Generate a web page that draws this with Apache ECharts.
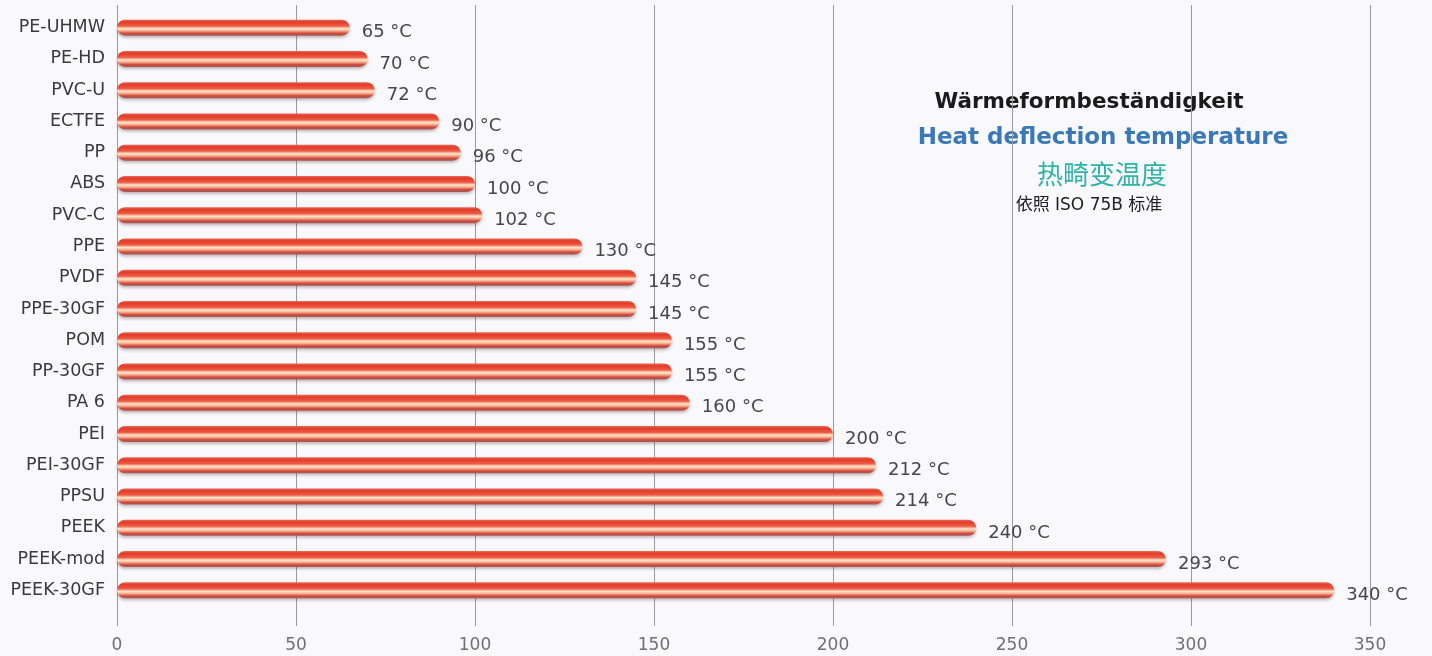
<!DOCTYPE html>
<html>
<head>
<meta charset="utf-8">
<script src="https://cdn.jsdelivr.net/npm/echarts@6/dist/echarts.min.js"></script>
<style>
  html, body { margin: 0; padding: 0; background: #f9f8fb; }
  #chart { width: 1432px; height: 656px; }
</style>
</head>
<body>
<div id="chart"></div>
<script>
// Heat deflection temperature per material (°C)
const materials = ['PE-UHMW', 'PE-HD', 'PVC-U', 'ECTFE', 'PP', 'ABS', 'PVC-C', 'PPE', 'PVDF', 'PPE-30GF',
  'POM', 'PP-30GF', 'PA 6', 'PEI', 'PEI-30GF', 'PPSU', 'PEEK', 'PEEK-mod', 'PEEK-30GF'];
const temperatures = [65, 70, 72, 90, 96, 100, 102, 130, 145, 145, 155, 155, 160, 200, 212, 214, 240, 293, 340];
const axisTicks = [0, 50, 100, 150, 200, 250, 300, 350];
const titleLines = ['Wärmeformbeständigkeit', 'Heat deflection temperature', '热畸变温度', '依照 ISO 75B 标准'];

const chart = echarts.init(document.getElementById('chart'));

// tube-like bar fill: red top, pale highlight stripe, darker underside
const tubeFill = new echarts.graphic.LinearGradient(0, 0, 0, 1, [
  { offset: 0.00, color: '#ea6a55' },
  { offset: 0.15, color: '#e33a2a' },
  { offset: 0.40, color: '#ec5c44' },
  { offset: 0.56, color: '#ffe6cc' },
  { offset: 0.69, color: '#f7b496' },
  { offset: 0.85, color: '#d6493a' },
  { offset: 1.00, color: '#9a5c5e' }
]);

const gridColor = '#9a9a9a';
const sans = '"DejaVu Sans", sans-serif';

chart.setOption({
  backgroundColor: '#f9f8fb',
  animation: false,
  grid: { left: 117, right: 62, top: 12, height: 594 },
  xAxis: [{
    type: 'value',
    min: axisTicks[0],
    max: axisTicks[axisTicks.length - 1],
    interval: axisTicks[1] - axisTicks[0],
    axisLine: { show: false },
    axisTick: { show: true, length: 20, lineStyle: { color: gridColor } },
    axisLabel: { color: '#707070', fontSize: 17, margin: 31, fontFamily: sans },
    splitLine: { show: true, lineStyle: { color: gridColor, width: 1 } }
  }, {
    type: 'value',
    position: 'top',
    min: axisTicks[0],
    max: axisTicks[axisTicks.length - 1],
    interval: axisTicks[1] - axisTicks[0],
    axisLine: { show: false },
    axisTick: { show: true, length: 7, lineStyle: { color: gridColor } },
    axisLabel: { show: false },
    splitLine: { show: false }
  }],
  yAxis: {
    type: 'category',
    data: materials,
    inverse: true,
    axisLine: { show: false },
    axisTick: { show: false },
    axisLabel: { color: '#3a3a3a', fontSize: 17.5, margin: 12, fontFamily: sans }
  },
  series: [{
    type: 'bar',
    xAxisIndex: 0,
    data: temperatures,
    barWidth: 16,
    itemStyle: {
      color: tubeFill,
      borderRadius: [8, 8, 8, 8],
      shadowColor: 'rgba(90,60,60,0.35)',
      shadowBlur: 3,
      shadowOffsetY: 2
    },
    label: {
      show: true,
      position: 'right',
      distance: 12,
      offset: [0, 5],
      formatter: p => p.value + ' °C',
      color: '#474747',
      fontSize: 18,
      fontFamily: sans
    }
  }],
  graphic: [
    { type: 'text', x: 1089, y: 102, style: { text: titleLines[0], fill: '#1a1a1a', fontSize: 21.5, fontWeight: 'bold', fontFamily: sans, textAlign: 'center', textVerticalAlign: 'middle' } },
    { type: 'text', x: 1103, y: 138, style: { text: titleLines[1], fill: '#3a78b8', fontSize: 23, fontWeight: 'bold', fontFamily: sans, textAlign: 'center', textVerticalAlign: 'middle' } },
    { type: 'text', x: 1102, y: 174, style: { text: titleLines[2], fill: '#2fb3a8', fontSize: 26, fontFamily: '"Noto Sans CJK SC", sans-serif', textAlign: 'center', textVerticalAlign: 'middle' } },
    { type: 'text', x: 1089, y: 206, style: { text: titleLines[3], fill: '#222', fontSize: 17, fontFamily: '"DejaVu Sans", "Noto Sans CJK SC", sans-serif', textAlign: 'center', textVerticalAlign: 'middle' } }
  ]
});
</script>
</body>
</html>
